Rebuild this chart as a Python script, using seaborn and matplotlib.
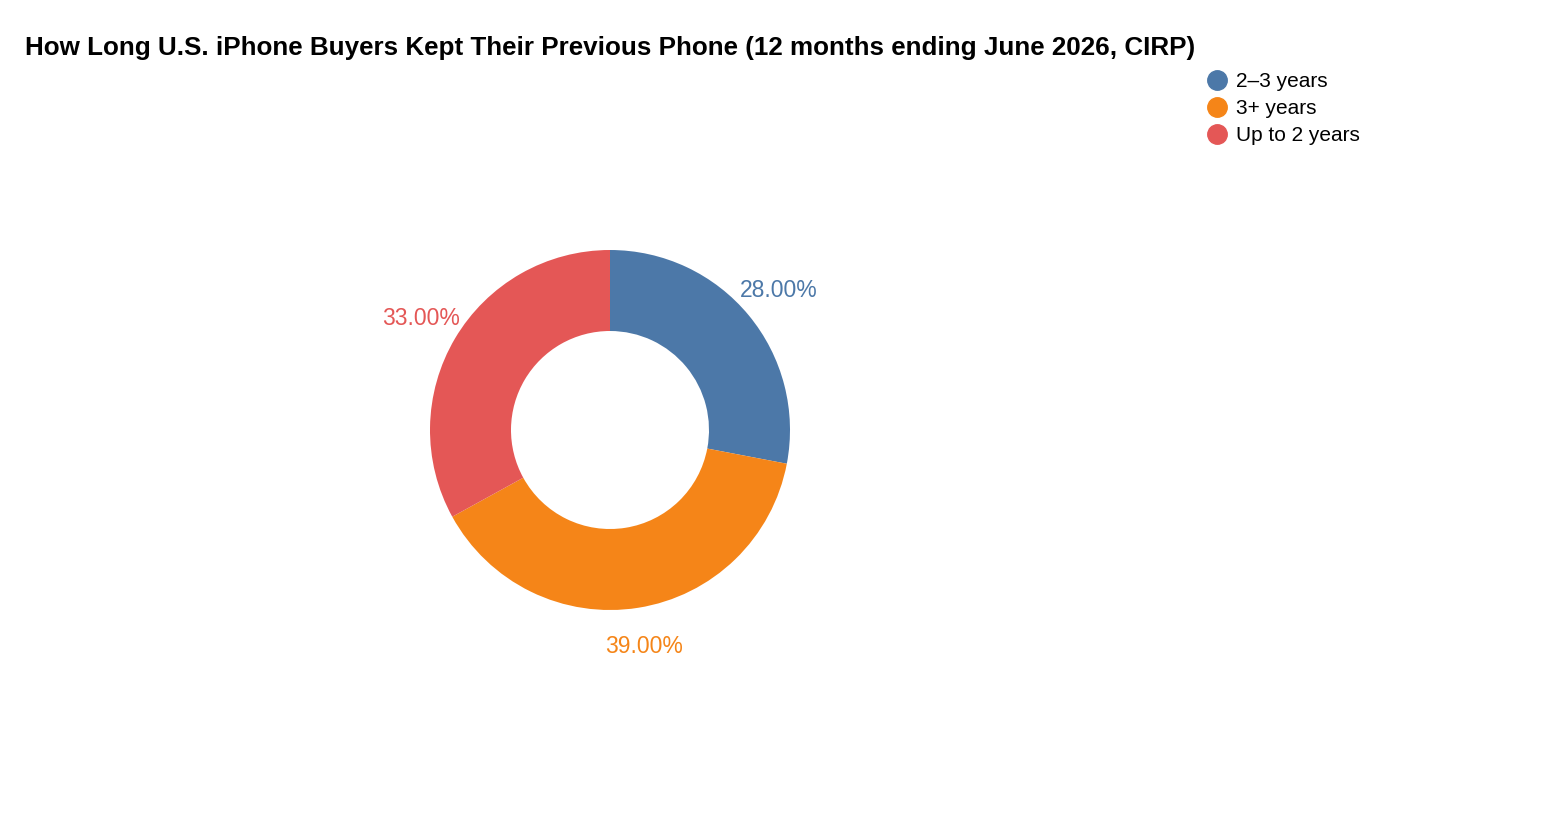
import matplotlib
matplotlib.use("Agg")
import matplotlib.pyplot as plt
import seaborn as sns
from matplotlib.lines import Line2D

# Data
categories = ["2\u20133 years", "3+ years", "Up to 2 years"]
shares = [28, 39, 33]
colors = ["#4c78a8", "#f58518", "#e45756"]

sns.set_theme(style="white")
plt.rcParams["font.family"] = ["Liberation Sans", "DejaVu Sans"]

W, H = 1562, 838
fig = plt.figure(figsize=(W / 100, H / 100), dpi=100)

# donut centred at (610, 430) px, outer radius 180 px
cx, cy, r = 610, 430, 180
ax = fig.add_axes([(cx - r) / W, (H - cy - r) / H, 2 * r / W, 2 * r / H])

wedges, texts, autotexts = ax.pie(
    shares,
    colors=colors,
    startangle=90,
    counterclock=False,
    radius=1,
    autopct="%.2f%%",
    pctdistance=1.22,
    wedgeprops=dict(width=0.45, edgecolor="none"),
)
for t, c in zip(autotexts, colors):
    t.set_color(c)
    t.set_fontsize(16.5)
ax.set_xlim(-1, 1)
ax.set_ylim(-1, 1)
ax.set_aspect("equal")
ax.axis("off")

fig.text(25 / W, 1 - 48 / H, "How Long U.S. iPhone Buyers Kept Their Previous Phone (12 months ending June 2026, CIRP)",
         fontsize=18.7, fontweight="bold", va="center", ha="left", color="black")

handles = [Line2D([], [], marker="o", linestyle="none", markersize=14,
                  markerfacecolor=c, markeredgecolor=c) for c in colors]
leg = fig.legend(handles, categories, loc="upper left", bbox_to_anchor=(1206 / W, 1 - 72 / H),
                 frameon=False, fontsize=15, handletextpad=0.35, labelspacing=0.38,
                 borderaxespad=0, borderpad=0, handlelength=1.1)
for t in leg.get_texts():
    t.set_color("black")

fig.savefig("out.png", dpi=100, facecolor="white")
